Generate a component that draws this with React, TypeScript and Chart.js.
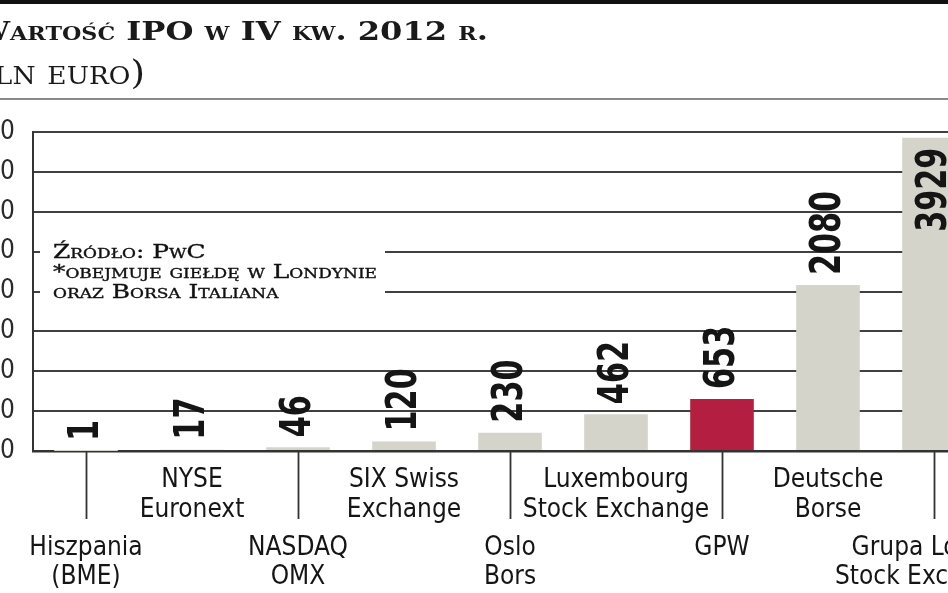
import React, { useEffect, useRef } from "react";
import { Chart, registerables } from "chart.js";

Chart.register(...registerables);

// ---- data ----
const categories: string[][] = [
  ["Hiszpania", "(BME)"],
  ["NYSE", "Euronext"],
  ["NASDAQ", "OMX"],
  ["SIX Swiss", "Exchange"],
  ["Oslo", "Bors"],
  ["Luxembourg", "Stock Exchange"],
  ["GPW"],
  ["Deutsche", "Borse"],
  ["Grupa London", "Stock Exchange*"],
];
const values = [1, 17, 46, 120, 230, 462, 653, 2080, 3929];
const highlighted = "GPW";
const yMin = 0;
const yMax = 4000;
const yStep = 500;
const titleText = "Wartość IPO w IV kw. 2012 r.";
const subtitleText = "(mln euro)";
const noteLines = ["Źródło: PwC", "*obejmuje giełdę w Londynie", "oraz Borsa Italiana"];

// ---- styles ----
const NARROW = "'Liberation Sans Narrow', 'DejaVu Sans Condensed', 'Arial Narrow', sans-serif";
const SERIF = "'DejaVu Serif', serif";
const GRAY_BAR = "#d4d4ca";
const RED_BAR = "#b41e40";
const GRID = "#404040";
const TEXT = "#151515";

const barColors = categories.map((c) => (c[0] === highlighted ? RED_BAR : GRAY_BAR));

const decorPlugin = {
  id: "decor",
  beforeDatasetsDraw(chart: any) {
    const ctx = chart.ctx as CanvasRenderingContext2D;
    const ca = chart.chartArea;
    ctx.save();
    ctx.fillStyle = "#ffffff";
    ctx.fillRect(ca.left + 7, ca.top + 96, 345, 84);
    ctx.fillStyle = "#111";
    ctx.font = `small-caps 19px ${SERIF}`;
    ctx.textAlign = "left";
    ctx.textBaseline = "alphabetic";
    const sx = 324 / ctx.measureText(noteLines[1]).width;
    noteLines.forEach((line, i) => {
      ctx.save();
      ctx.translate(ca.left + 20, ca.top + 126 + i * 20);
      ctx.scale(sx, 1);
      ctx.fillText(line, 0, 0);
      ctx.strokeStyle = "#111";
      ctx.lineWidth = 0.35;
      ctx.strokeText(line, 0, 0);
      ctx.restore();
    });
    ctx.restore();
  },
  afterDatasetsDraw(chart: any) {
    const ctx = chart.ctx as CanvasRenderingContext2D;
    const ca = chart.chartArea;
    const xs = chart.scales.x;
    // leader lines for lower-row labels
    ctx.save();
    ctx.strokeStyle = "#333";
    ctx.lineWidth = 1.8;
    categories.forEach((_, i) => {
      if (i % 2 === 0) {
        const px = Math.round(xs.getPixelForValue(i)) + 0.5;
        ctx.beginPath();
        ctx.moveTo(px, ca.bottom);
        ctx.lineTo(px, ca.bottom + 68);
        ctx.stroke();
      }
    });
    ctx.restore();

    // value labels (rotated, condensed along reading direction)
    const meta = chart.getDatasetMeta(0);
    ctx.save();
    ctx.font = `bold 42px ${NARROW}`;
    ctx.fillStyle = TEXT;
    const cond = 0.8;
    meta.data.forEach((bar: any, i: number) => {
      const { x, y } = bar.getProps(["x", "y"], true);
      const txt = String(values[i]);
      const w = ctx.measureText(txt).width * cond;
      const inside = y - 10 - w < ca.top;
      ctx.save();
      ctx.translate(x + 1, inside ? y + 10 : y - 10);
      ctx.rotate(-Math.PI / 2);
      ctx.scale(cond, 1);
      ctx.textAlign = inside ? "right" : "left";
      ctx.textBaseline = "middle";
      ctx.fillText(txt, 0, 0);
      ctx.restore();
    });
    ctx.restore();
  },
  afterDraw(chart: any) {
    const ctx = chart.ctx as CanvasRenderingContext2D;
    ctx.save();
    ctx.fillStyle = "#111";
    ctx.fillRect(0, 0, chart.width, 4);
    ctx.fillStyle = "#8a8a8a";
    ctx.fillRect(0, 98, chart.width, 2);
    ctx.fillStyle = "#1a1a1a";
    ctx.textAlign = "left";
    ctx.textBaseline = "alphabetic";
    // title, stretched to the width of the original slab-serif lettering
    ctx.font = `small-caps bold 26px ${SERIF}`;
    const tw = ctx.measureText(titleText).width;
    const tsx = 514 / tw;
    ctx.save();
    ctx.translate(1, 40);
    ctx.scale(tsx, 1);
    ctx.fillText(titleText, 0, 0);
    ctx.restore();
    // subtitle, right end fixed
    ctx.font = `small-caps 34px ${SERIF}`;
    const sw = ctx.measureText(subtitleText).width;
    const ssx = 1.1;
    ctx.save();
    ctx.translate(172 - sw * ssx, 84);
    ctx.scale(ssx, 1);
    ctx.fillText(subtitleText, 0, 0);
    ctx.restore();
    ctx.restore();
  },
};

export default function App() {
  const ref = useRef<HTMLCanvasElement>(null);
  useEffect(() => {
    if (!ref.current) return;
    const chart = new Chart(ref.current, {
      type: "bar",
      data: {
        labels: categories,
        datasets: [
          {
            data: values,
            backgroundColor: barColors,
            borderWidth: 0,
            barPercentage: 0.6,
            categoryPercentage: 1,
            xAxisID: "x",
            yAxisID: "y",
          },
        ],
      },
      options: {
        animation: false,
        responsive: true,
        maintainAspectRatio: false,
        layout: { padding: { top: 132, right: 80, bottom: 0, left: 0 } },
        plugins: {
          legend: { display: false },
          tooltip: { enabled: false },
          title: { display: false },
        },
        scales: {
          y: {
            min: yMin,
            max: yMax,
            ticks: {
              stepSize: yStep,
              padding: 18,
              color: "#2a2a2a",
              font: { family: NARROW, size: 26 },
            },
            grid: { color: GRID, lineWidth: 2, drawTicks: false },
            border: { display: true, color: "#333", width: 2 },
            afterFit: (s: any) => {
              s.width = 60;
            },
          },
          x: {
            type: "category",
            position: "bottom",
            offset: true,
            weight: 0,
            grid: { display: false, drawTicks: false },
            border: { display: true, color: "#333", width: 2.5 },
            ticks: {
              autoSkip: false,
              maxRotation: 0,
              minRotation: 0,
              padding: 14,
              color: TEXT,
              font: { family: NARROW, size: 26, lineHeight: "30px" },
              callback: (_v: any, i: number) => (i % 2 === 1 ? categories[i] : ""),
            },
            afterFit: (s: any) => {
              s.height = 72;
            },
          },
          x2: {
            type: "category",
            position: "bottom",
            offset: true,
            weight: 1,
            grid: { display: false, drawTicks: false },
            border: { display: false },
            ticks: {
              autoSkip: false,
              maxRotation: 0,
              minRotation: 0,
              padding: 11,
              color: TEXT,
              font: { family: NARROW, size: 26, lineHeight: "29px" },
              callback: (_v: any, i: number) => (i % 2 === 0 ? categories[i] : ""),
            },
            afterFit: (s: any) => {
              s.height = 70;
            },
          },
        },
      } as any,
      plugins: [decorPlugin],
    });
    return () => chart.destroy();
  }, []);

  return (
    <div
      style={{
        position: "fixed",
        left: 0,
        top: 0,
        width: 948,
        height: 593,
        overflow: "hidden",
        background: "#fff",
      }}
    >
      <div style={{ position: "absolute", left: -27, top: 0, width: 1094, height: 593 }}>
        <canvas ref={ref} />
      </div>
    </div>
  );
}
